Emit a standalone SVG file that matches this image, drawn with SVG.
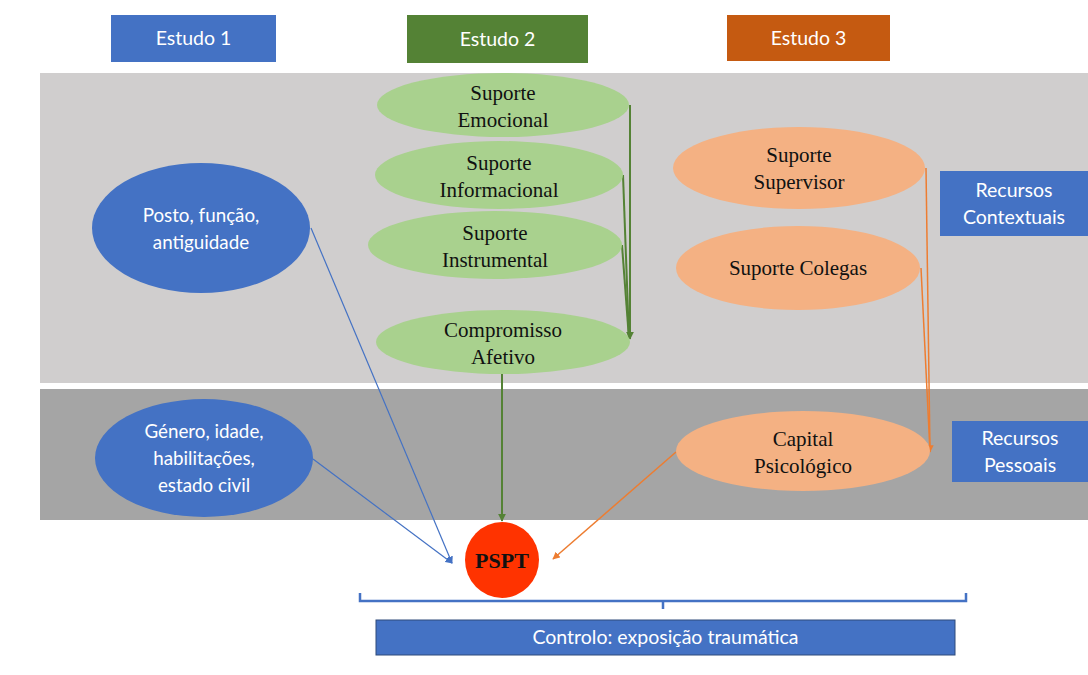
<svg xmlns="http://www.w3.org/2000/svg" width="1088" height="675" viewBox="0 0 1088 675">
<defs>
<style>
.sans{font-family:Lato,"Open Sans","Liberation Sans",sans-serif;fill:#fff;font-size:19.5px;text-anchor:middle}
.es{font-size:18.8px}
.serif{font-family:"Liberation Serif","Times New Roman",serif;fill:#111;font-size:21px;text-anchor:middle}
.green{fill:#A9D18E}
.orange{fill:#F4B183}
.blue{fill:#4472C4}
.gl{stroke:#548235;stroke-width:2;fill:none}
.ol{stroke:#ED7D31;stroke-width:1.5;fill:none}
.bl{stroke:#4472C4;stroke-width:1.2;fill:none}
</style>
<marker id="ag" viewBox="0 0 10 10" refX="9" refY="5" markerWidth="4" markerHeight="4" orient="auto"><path d="M0,0L10,5L0,10z" fill="#548235"/></marker>
<marker id="ao" viewBox="0 0 10 10" refX="9" refY="5" markerWidth="5" markerHeight="5" orient="auto"><path d="M0,0L10,5L0,10z" fill="#ED7D31"/></marker>
<marker id="ab" viewBox="0 0 10 10" refX="9" refY="5" markerWidth="6" markerHeight="6" orient="auto"><path d="M0,0L10,5L0,10z" fill="#4472C4"/></marker>
</defs>
<rect width="1088" height="675" fill="#fff"/>
<g id="bands">
<rect x="40" y="73" width="1048" height="310" fill="#D0CECE"/>
<rect x="40" y="389" width="1048" height="131" fill="#A5A5A5"/>
</g>
<g id="estudo1"><rect x="111" y="15" width="165" height="47" class="blue"/><text x="193.5" y="45" class="sans">Estudo 1</text></g>
<g id="estudo2"><rect x="407" y="15" width="181" height="48" fill="#548235"/><text x="497.5" y="46" class="sans">Estudo 2</text></g>
<g id="estudo3"><rect x="727" y="15" width="163" height="46" fill="#C55A11"/><text x="808.5" y="45" class="sans">Estudo 3</text></g>
<g id="recursos-contextuais"><rect x="940" y="171" width="148" height="65" class="blue"/><text x="1014" y="197" class="sans">Recursos</text><text x="1014" y="224" class="sans">Contextuais</text></g>
<g id="recursos-pessoais"><rect x="952" y="421" width="136" height="61" class="blue"/><text x="1020" y="445" class="sans">Recursos</text><text x="1020" y="472" class="sans">Pessoais</text></g>
<g id="connectors">
<line x1="630" y1="105" x2="630" y2="339" class="gl" marker-end="url(#ag)"/>
<line x1="623" y1="175" x2="629" y2="339" class="gl"/>
<line x1="622" y1="245" x2="629" y2="339" class="gl"/>
<line x1="502" y1="374" x2="502" y2="521" class="gl" marker-end="url(#ag)"/>
<line x1="926" y1="168" x2="930" y2="452" class="ol" marker-end="url(#ao)"/>
<line x1="921" y1="268" x2="930" y2="452" class="ol"/>
<line x1="676" y1="452" x2="553" y2="559" class="ol" marker-end="url(#ao)"/>
<line x1="311" y1="228" x2="452" y2="563" class="bl" marker-end="url(#ab)"/>
<line x1="313" y1="459" x2="452" y2="563" class="bl" marker-end="url(#ab)"/>
<path d="M360,593V601H966V593M663,601V609" stroke="#4472C4" stroke-width="2.5" fill="none"/>
</g>
<g id="suporte-emocional"><ellipse cx="503" cy="105" rx="126" ry="32" class="green"/><text x="503" y="100" class="serif">Suporte</text><text x="503" y="127" class="serif">Emocional</text></g>
<g id="suporte-informacional"><ellipse cx="499" cy="175" rx="124" ry="34" class="green"/><text x="499" y="170" class="serif">Suporte</text><text x="499" y="197" class="serif">Informacional</text></g>
<g id="suporte-instrumental"><ellipse cx="495" cy="245" rx="127" ry="34" class="green"/><text x="495" y="240" class="serif">Suporte</text><text x="495" y="267" class="serif">Instrumental</text></g>
<g id="compromisso-afetivo"><ellipse cx="503" cy="342" rx="127" ry="32" class="green"/><text x="503" y="337" class="serif">Compromisso</text><text x="503" y="364" class="serif">Afetivo</text></g>
<g id="suporte-supervisor"><ellipse cx="799" cy="168" rx="126" ry="41" class="orange"/><text x="799" y="162" class="serif">Suporte</text><text x="799" y="189" class="serif">Supervisor</text></g>
<g id="suporte-colegas"><ellipse cx="798" cy="268" rx="122" ry="42" class="orange"/><text x="798" y="275" class="serif">Suporte Colegas</text></g>
<g id="capital-psicologico"><ellipse cx="803" cy="451" rx="127" ry="40" class="orange"/><text x="803" y="446" class="serif">Capital</text><text x="803" y="473" class="serif">Psicológico</text></g>
<g id="posto"><ellipse cx="201" cy="228" rx="109" ry="65" class="blue"/><text x="201" y="222" class="sans es">Posto, função,</text><text x="201" y="249" class="sans es">antiguidade</text></g>
<g id="genero"><ellipse cx="204" cy="458" rx="109" ry="59" class="blue"/><text x="204" y="438" class="sans es">Género, idade,</text><text x="204" y="465" class="sans es">habilitações,</text><text x="204" y="492" class="sans es">estado civil</text></g>
<g id="pspt"><ellipse cx="502" cy="560" rx="37" ry="38" fill="#FF3300"/><text x="502" y="568" class="serif" style="font-size:22px;font-weight:bold">PSPT</text></g>
<g id="controlo"><rect x="376" y="620" width="579" height="35" class="blue" stroke="#2F4A7A" stroke-width="1"/><text x="665.5" y="644" class="sans">Controlo: exposição traumática</text></g>
</svg>
